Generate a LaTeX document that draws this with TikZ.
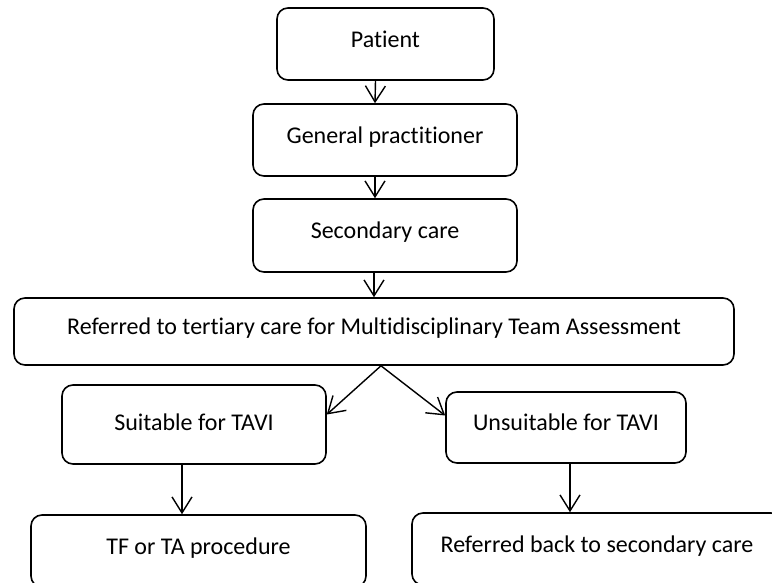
\documentclass[tikz,border=0pt]{standalone}
\usepackage{fontspec}
\setmainfont{Carlito}[Ligatures={NoCommon}]
\usetikzlibrary{arrows.meta}

\begin{document}
\begin{tikzpicture}[x=1pt, y=1pt,
      box/.style={rectangle, draw=black, line width=1.6pt, rounded corners=11pt,
                  font=\fontsize{24}{28}\selectfont, align=center,
                  text height=15pt, text depth=9pt, inner sep=0pt},
      flow/.style={-{Straight Barb[length=16pt, width=20pt, line width=1.4pt]},
                   line width=1.4pt}
    ]
    \useasboundingbox (0,0) rectangle (772,-582);

    %--- Referral chain (top) ---
    \node[box, minimum width=217pt, minimum height=72pt] (patient) at (385.5,-44) {Patient};
    \node[box, minimum width=264pt, minimum height=72pt] (gp) at (385,-140) {General practitioner};
    \node[box, minimum width=264pt, minimum height=73pt] (secondary) at (385,-235.5) {Secondary care};
    \node[box, minimum width=720pt, minimum height=67pt] (mdt) at (374,-331.5)
          {Referred to tertiary care for Multidisciplinary Team Assessment};

    %--- Outcome of assessment ---
    \node[box, minimum width=264pt, minimum height=79pt, text depth=3pt] (suitable) at (194,-424.5) {Suitable for TAVI};
    \node[box, minimum width=240pt, minimum height=71pt] (unsuitable) at (566,-427.5) {Unsuitable for TAVI};
    \node[box, minimum width=335pt, minimum height=72pt] (procedure) at (198.5,-551) {TF or TA procedure};
    \node[box, minimum width=370pt, minimum height=72pt] (back) at (597,-549) {Referred back to secondary care};

    % Connectors
    \draw[flow] ([xshift=-10pt]patient.south) -- ([xshift=-10pt]gp.north);
    \draw[flow] ([xshift=-10pt]gp.south) -- ([xshift=-10pt]secondary.north);
    \draw[flow] ([xshift=-11pt]secondary.south) -- (mdt.north);
    \coordinate (split) at ([xshift=7pt]mdt.south);
    \draw[flow] (split) -- ([yshift=10pt]suitable.east);
    \draw[flow] (split) -- ([yshift=12pt]unsuitable.west);
    \draw[flow] ([xshift=-12pt]suitable.south) -- ([xshift=-12pt]suitable.south |- procedure.north);
    \draw[flow] ([xshift=4pt]unsuitable.south) -- ([xshift=4pt]unsuitable.south |- back.north);
  \end{tikzpicture}
\end{document}
